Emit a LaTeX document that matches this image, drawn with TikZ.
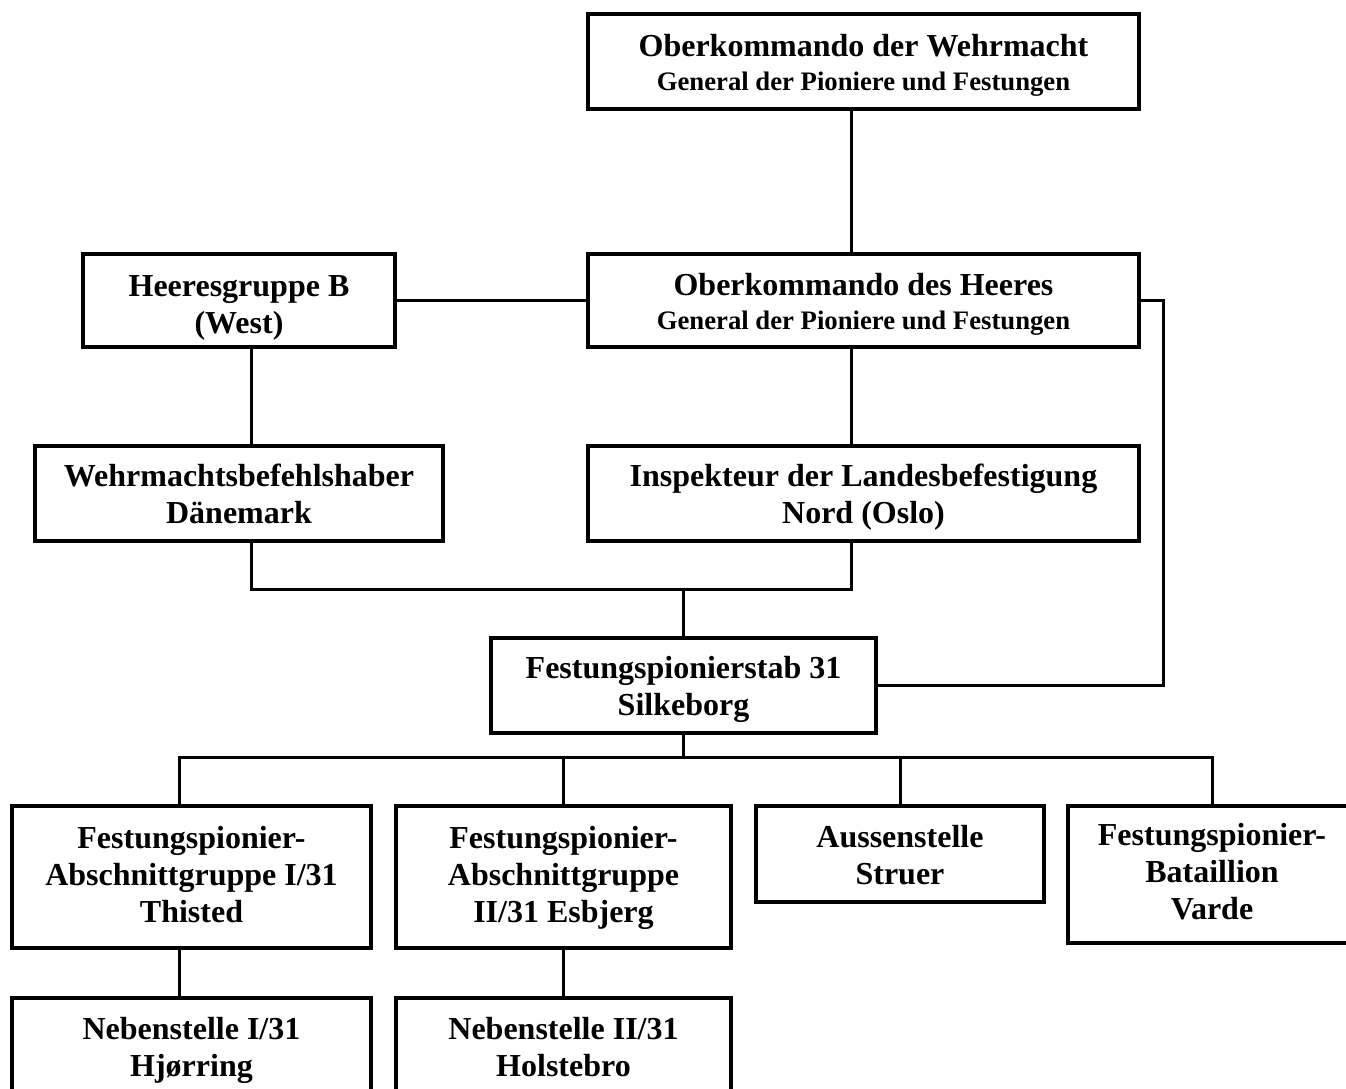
\documentclass[tikz,border=0pt]{standalone}
\usepackage{fontspec}
\setmainfont{Liberation Serif}
\usetikzlibrary{positioning,calc}
\newcommand{\hqfont}{\fontsize{32}{37}\selectfont\bfseries}
\newcommand{\subfont}{\fontsize{26.7}{34.5}\selectfont\bfseries}
%% struts give every box the same line boxes
\newcommand{\topstrut}{\vrule width 0pt height 30.5pt depth 0pt}
\newcommand{\highstrut}{\vrule width 0pt height 36.5pt depth 0pt}
\newcommand{\tallstrut}{\vrule width 0pt height 23.5pt depth 0pt}
\newcommand{\botstrut}{\vrule width 0pt height 0pt depth 6.9pt}
\tikzset{
  unitbox/.style={draw, line width=4pt, align=center, inner sep=0pt,
                  font=\hqfont, minimum width=#1, minimum height=95pt},
  unitbox/.default=551pt,
  link/.style   ={line width=3pt},
}
\begin{document}
\begin{tikzpicture}[x=1pt,y=-1pt]
  \useasboundingbox (0,0) rectangle (1346,1088);
  \clip (0,0) rectangle (1346,1088);
  %% command level
  \node[unitbox, font=\subfont] (okw) at (863.5,61.5)
    {{\hqfont\topstrut Oberkommando der Wehrmacht}\\General der Pioniere und Festungen\botstrut};
  \node[unitbox, font=\subfont, minimum height=93pt] (okh) at (863.5,300.5)
    {{\hqfont\topstrut Oberkommando des Heeres}\\General der Pioniere und Festungen\botstrut};
  \node[unitbox=312pt, minimum height=93pt] (hgb) at (239,300.5)
    {\highstrut Heeresgruppe B\\(West)\botstrut};
  \node[unitbox=408pt] (wbd) at (239,493.5)
    {\topstrut Wehrmachtsbefehlshaber\\Dänemark\botstrut};
  \node[unitbox] (iln) at (863.5,493.5)
    {\topstrut Inspekteur der Landesbefestigung\\Nord (Oslo)\botstrut};
  \node[unitbox=385pt] (fps) at (683.5,685.5)
    {\topstrut Festungspionierstab 31\\Silkeborg\botstrut};
  %% field units
  \node[unitbox=359pt, minimum height=142pt] (fpa1) at (191.5,877)
    {\tallstrut Festungspionier-\\Abschnittgruppe I/31\\Thisted\botstrut};
  \node[unitbox=335pt, minimum height=142pt] (fpa2) at (563.5,877)
    {\tallstrut Festungspionier-\\Abschnittgruppe\\II/31 Esbjerg\botstrut};
  \node[unitbox=288pt, minimum height=96pt] (aus) at (900,854)
    {\topstrut Aussenstelle\\Struer\botstrut};
  \node[unitbox=288pt, minimum height=137pt] (fpb) at (1212,874.5)
    {\tallstrut Festungspionier-\\Bataillion\\Varde\botstrut};
  \node[unitbox=359pt, minimum height=96pt] (neb1) at (191.5,1046)
    {\topstrut Nebenstelle I/31\\Hjørring\botstrut};
  \node[unitbox=335pt, minimum height=96pt] (neb2) at (563.5,1046)
    {\topstrut Nebenstelle II/31\\Holstebro\botstrut};
  %% connector tracks
  \coordinate (spine) at (851,0);
  \coordinate (westline) at (251,0);
  \coordinate (mid) at (683,0);
  \coordinate (sideline) at (1163,0);
  \coordinate (leftdrop) at (179,0);
  \coordinate (join) at (0,589);
  \coordinate (bus) at (0,757);
  \draw[link] (okw.south -| spine) -- (okh.north -| spine);
  \draw[link] (hgb.east) -- (okh.west);
  \draw[link] (okh.south -| spine) -- (iln.north -| spine);
  \draw[link] (hgb.south -| westline) -- (wbd.north -| westline);
  \draw[link] (wbd.south -| westline) |- (join -| spine) -- (iln.south -| spine);
  \draw[link] (join -| mid) -- (fps.north -| mid);
  \draw[link] (okh.east) -- (okh.east -| sideline) |- (fps.east);
  \draw[link] (fps.south -| mid) -- (bus -| mid);
  \draw[link] (fpa1.north -| leftdrop) -- (bus -| leftdrop) -- (bus -| fpb.north) -- (fpb.north);
  \foreach \b in {fpa2,aus}
    \draw[link] (bus -| \b.north) -- (\b.north);
  \draw[link] (fpa1.south -| leftdrop) -- (neb1.north -| leftdrop);
  \draw[link] (fpa2.south) -- (neb2.north);
\end{tikzpicture}
\end{document}
